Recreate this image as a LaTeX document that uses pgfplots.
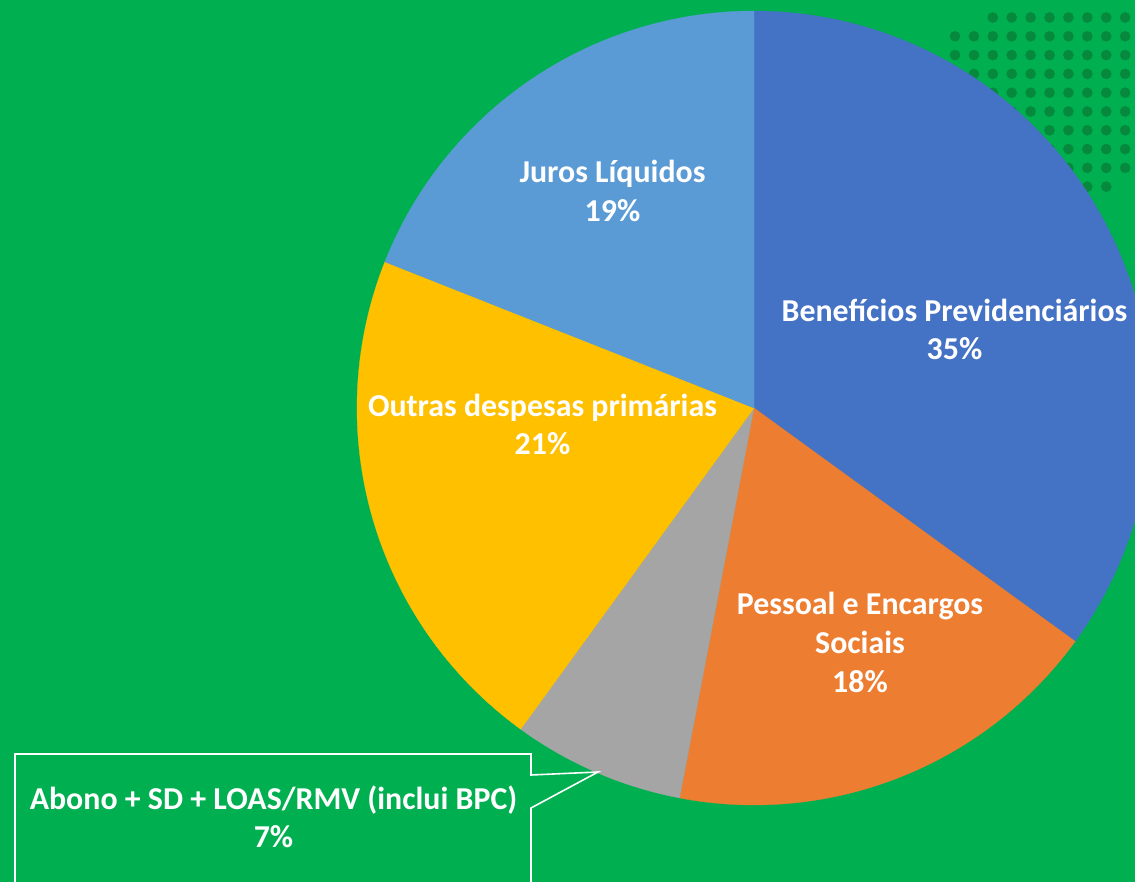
\documentclass[border=0pt]{standalone}
\usepackage{pgfplots}
\pgfplotsset{compat=1.18}
\usepackage{fontspec}
\setmainfont{Carlito}
\definecolor{bggreen}{HTML}{00B050}
\definecolor{dotgreen}{HTML}{06893D}
\definecolor{cBen}{HTML}{4472C4}
\definecolor{cPes}{HTML}{ED7D31}
\definecolor{cAbo}{HTML}{A5A5A5}
\definecolor{cOut}{HTML}{FFC000}
\definecolor{cJur}{HTML}{5B9BD5}
% shares (%), clockwise from 12 o'clock
\def\vBen{35}
\def\vPes{18}
\def\vAbo{7}
\def\vOut{21}
\def\vJur{19}
\pgfmathsetmacro\aA{90}
\pgfmathsetmacro\aB{\aA-3.6*\vBen}
\pgfmathsetmacro\aC{\aB-3.6*\vPes}
\pgfmathsetmacro\aD{\aC-3.6*\vAbo}
\pgfmathsetmacro\aE{\aD-3.6*\vOut}
\pgfmathsetmacro\aF{\aE-3.6*\vJur}
\def\cx{754}
\def\cy{474}
\def\R{397}
\newcommand\slice[3]{%
  \addplot[fill=#3, draw=#3, line width=0.3pt, domain=#2:#1, samples=120]
    ({\cx+\R*cos(x)},{\cy+\R*sin(x)}) -- (axis cs:\cx,\cy) -- cycle;}
\tikzset{lab/.style={font=\fontsize{32}{38}\selectfont\bfseries, text=white, anchor=base, inner sep=0pt}}
\begin{document}
\begin{tikzpicture}
\begin{axis}[width=1135bp, height=882bp, scale only axis,
  xmin=0, xmax=1135, ymin=0, ymax=882, axis lines=none, clip=true,
  clip marker paths=true]
\addplot[fill=bggreen, draw=none] coordinates {(-10,-10) (1145,-10) (1145,892) (-10,892)} -- cycle;
\addplot[only marks, mark=*, mark size=5.1pt, color=dotgreen, mark options={draw=dotgreen, fill=dotgreen}] coordinates {
(1030.6,883.3) (1049.5,883.3) (1068.4,883.3) (1087.3,883.3) (1106.2,883.3) (1125.1,883.3)
(992.8,864.5) (1011.7,864.5) (1030.6,864.5) (1049.5,864.5) (1068.4,864.5) (1087.3,864.5) (1106.2,864.5) (1125.1,864.5)
(955,845.7) (973.9,845.7) (992.8,845.7) (1011.7,845.7) (1030.6,845.7) (1049.5,845.7) (1068.4,845.7) (1087.3,845.7) (1106.2,845.7) (1125.1,845.7)
(955,826.9) (973.9,826.9) (992.8,826.9) (1011.7,826.9) (1030.6,826.9) (1049.5,826.9) (1068.4,826.9) (1087.3,826.9) (1106.2,826.9) (1125.1,826.9)
(955,808.1) (973.9,808.1) (992.8,808.1) (1011.7,808.1) (1030.6,808.1) (1049.5,808.1) (1068.4,808.1) (1087.3,808.1) (1106.2,808.1) (1125.1,808.1)
(955,789.3) (973.9,789.3) (992.8,789.3) (1011.7,789.3) (1030.6,789.3) (1049.5,789.3) (1068.4,789.3) (1087.3,789.3) (1106.2,789.3) (1125.1,789.3)
(955,770.5) (973.9,770.5) (992.8,770.5) (1011.7,770.5) (1030.6,770.5) (1049.5,770.5) (1068.4,770.5) (1087.3,770.5) (1106.2,770.5) (1125.1,770.5)
(955,751.7) (973.9,751.7) (992.8,751.7) (1011.7,751.7) (1030.6,751.7) (1049.5,751.7) (1068.4,751.7) (1087.3,751.7) (1106.2,751.7) (1125.1,751.7)
(955,732.9) (973.9,732.9) (992.8,732.9) (1011.7,732.9) (1030.6,732.9) (1049.5,732.9) (1068.4,732.9) (1087.3,732.9) (1106.2,732.9) (1125.1,732.9)
(955,714.1) (973.9,714.1) (992.8,714.1) (1011.7,714.1) (1030.6,714.1) (1049.5,714.1) (1068.4,714.1) (1087.3,714.1) (1106.2,714.1) (1125.1,714.1)
(955,695.3) (973.9,695.3) (992.8,695.3) (1011.7,695.3) (1030.6,695.3) (1049.5,695.3) (1068.4,695.3) (1087.3,695.3) (1106.2,695.3)
};
\slice{\aA}{\aB}{cBen}
\slice{\aB}{\aC}{cPes}
\slice{\aC}{\aD}{cAbo}
\slice{\aD}{\aE}{cOut}
\slice{\aE}{\aF}{cJur}
% callout box
\addplot[white, line width=1.6pt, no marks] coordinates {(15,-20) (15,128) (531,128) (531,107) (598,110) (531,74) (531,-20)};
\node[lab] at (axis cs:954.5,560) {Benefícios Previdenciários};
\node[lab] at (axis cs:954.5,522) {35\%};
\node[lab] at (axis cs:612.5,699) {Juros Líquidos};
\node[lab] at (axis cs:612.5,660) {19\%};
\node[lab] at (axis cs:542.5,465) {Outras despesas primárias};
\node[lab] at (axis cs:542.5,427) {21\%};
\node[lab] at (axis cs:860,267) {Pessoal e Encargos};
\node[lab] at (axis cs:860,228) {Sociais};
\node[lab] at (axis cs:860,189) {18\%};
\node[lab] at (axis cs:273.5,72) {Abono + SD + LOAS/RMV (inclui BPC)};
\node[lab] at (axis cs:273.5,34) {7\%};
\end{axis}
\pgfresetboundingbox
\path (current axis.south west) rectangle (current axis.north east);
\end{tikzpicture}
\end{document}
